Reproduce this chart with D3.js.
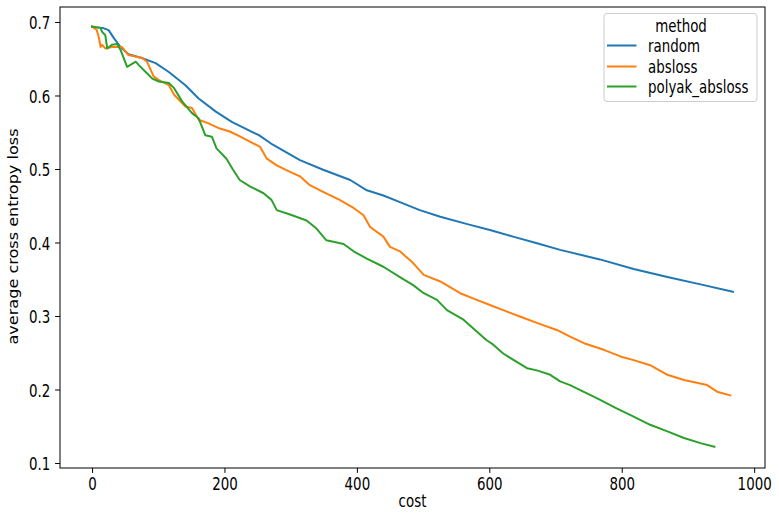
<!DOCTYPE html>
<html>
<head>
<meta charset="utf-8">
<script src="https://cdn.jsdelivr.net/npm/d3@7"></script>
<style>
  html, body { margin: 0; padding: 0; background: #fff; }
  svg { display: block; }
  text { font-family: "DejaVu Sans", sans-serif; fill: #000; }
</style>
</head>
<body>
<svg id="chart" width="779" height="513"></svg>
<script>
// ---- data ----
const seriesNames = ["random", "absloss", "polyak_absloss"];
const seriesColors = ["#1f77b4", "#ff7f0e", "#2ca02c"];

const randomCost = [0, 16, 25, 33, 43, 55, 75, 96, 116, 141, 161, 187, 211, 252, 273, 314, 349, 390, 415, 440, 465, 495, 526, 571, 601, 636, 672, 707, 767, 818, 869, 919, 968];
const randomLoss = [0.693, 0.692, 0.689, 0.678, 0.666, 0.656, 0.651, 0.644, 0.632, 0.614, 0.596, 0.578, 0.564, 0.546, 0.533, 0.512, 0.499, 0.485, 0.471, 0.464, 0.455, 0.444, 0.435, 0.424, 0.417, 0.408, 0.399, 0.390, 0.377, 0.364, 0.353, 0.343, 0.333];

const abslossCost = [0, 7, 10, 13, 15, 20, 30, 45, 55, 76, 83, 93, 101, 116, 124, 141, 151, 161, 176, 193, 208, 224, 239, 254, 264, 279, 299, 314, 329, 349, 374, 395, 410, 420, 440, 450, 465, 485, 501, 526, 556, 581, 601, 621, 647, 677, 702, 722, 743, 773, 798, 818, 843, 869, 894, 929, 944, 964];
const abslossLoss = [0.694, 0.689, 0.680, 0.666, 0.669, 0.664, 0.666, 0.666, 0.655, 0.651, 0.646, 0.626, 0.621, 0.614, 0.601, 0.585, 0.583, 0.567, 0.562, 0.555, 0.551, 0.544, 0.537, 0.530, 0.514, 0.505, 0.496, 0.490, 0.478, 0.469, 0.458, 0.447, 0.437, 0.421, 0.408, 0.394, 0.388, 0.372, 0.356, 0.347, 0.331, 0.322, 0.315, 0.308, 0.299, 0.289, 0.281, 0.272, 0.263, 0.254, 0.245, 0.240, 0.233, 0.220, 0.213, 0.206, 0.197, 0.192];

const polyakCost = [0, 13, 15, 20, 23, 30, 38, 43, 53, 66, 71, 81, 91, 101, 116, 124, 136, 151, 161, 171, 181, 188, 203, 213, 223, 239, 259, 271, 279, 299, 324, 339, 354, 380, 395, 415, 440, 465, 485, 501, 521, 536, 561, 581, 596, 606, 621, 637, 657, 672, 692, 707, 722, 742, 763, 793, 818, 843, 869, 894, 919, 940];
const polyakLoss = [0.694, 0.692, 0.687, 0.682, 0.664, 0.669, 0.670, 0.662, 0.639, 0.646, 0.641, 0.632, 0.623, 0.619, 0.617, 0.610, 0.592, 0.576, 0.569, 0.546, 0.544, 0.528, 0.514, 0.499, 0.485, 0.476, 0.467, 0.458, 0.444, 0.438, 0.430, 0.419, 0.403, 0.398, 0.388, 0.378, 0.367, 0.353, 0.342, 0.331, 0.322, 0.308, 0.295, 0.279, 0.267, 0.261, 0.249, 0.240, 0.229, 0.226, 0.220, 0.211, 0.206, 0.197, 0.188, 0.174, 0.163, 0.152, 0.143, 0.134, 0.127, 0.122];

const xTicks = [0, 200, 400, 600, 800, 1000];
const yTicks = [0.1, 0.2, 0.3, 0.4, 0.5, 0.6, 0.7];
const xLabel = "cost";
const yLabel = "average cross entropy loss";
const legendTitle = "method";

// ---- layout ----
const PL = 60, PR = 765, PT = 7, PB = 468;
const SY = 1.35;          // vertical text stretch seen in reference
const SYR = 1.2;          // stretch of rotated label length
const FS = 13.4;

const svg = d3.select("#chart");

const x = d3.scaleLinear().domain([-48.4, 1016.4]).range([PL, PR]);
const y = d3.scaleLinear().domain([0.0932, 0.7204]).range([PB, PT]);

const series = [
  { name: seriesNames[0], color: seriesColors[0], pts: randomCost.map((c, i) => [c, randomLoss[i]]) },
  { name: seriesNames[1], color: seriesColors[1], pts: abslossCost.map((c, i) => [c, abslossLoss[i]]) },
  { name: seriesNames[2], color: seriesColors[2], pts: polyakCost.map((c, i) => [c, polyakLoss[i]]) }
];

const line = d3.line().x(d => x(d[0])).y(d => y(d[1]));

svg.append("defs").append("clipPath").attr("id", "clip")
  .append("rect").attr("x", PL).attr("y", PT).attr("width", PR - PL).attr("height", PB - PT);

const g = svg.append("g").attr("clip-path", "url(#clip)");
series.forEach(s => {
  g.append("path").datum(s.pts)
    .attr("d", line)
    .attr("fill", "none")
    .attr("stroke", s.color)
    .attr("stroke-width", 2)
    .attr("stroke-linejoin", "round")
    .attr("stroke-linecap", "square");
});

// axes
const tickLen = 4.9, pad = 4.9;
const xAxis = d3.axisBottom(x).tickValues(xTicks).tickFormat(d3.format("d")).tickSize(tickLen).tickSizeOuter(0);
const yAxis = d3.axisLeft(y).tickValues(yTicks).tickFormat(d3.format(".1f")).tickSize(tickLen).tickSizeOuter(0);

const gx = svg.append("g").attr("transform", `translate(0,${PB})`).call(xAxis);
gx.select(".domain").remove();
gx.selectAll(".tick line").attr("stroke", "#000").attr("stroke-width", 1);
gx.selectAll(".tick text")
  .attr("font-size", FS)
  .attr("font-family", "DejaVu Sans")
  .attr("y", (tickLen + pad - 2) / SY)
  .attr("dy", "0.76em")
  .attr("transform", `scale(1,${SY})`);

const gy = svg.append("g").attr("transform", `translate(${PL},0)`).call(yAxis);
gy.select(".domain").remove();
gy.selectAll(".tick line").attr("stroke", "#000").attr("stroke-width", 1);
gy.selectAll(".tick text")
  .attr("font-size", FS)
  .attr("font-family", "DejaVu Sans")
  .attr("x", -(tickLen + pad))
  .attr("dy", "0.36em")
  .attr("transform", `scale(1,${SY})`);

// frame
svg.append("rect")
  .attr("x", PL).attr("y", PT).attr("width", PR - PL).attr("height", PB - PT)
  .attr("fill", "none").attr("stroke", "#000").attr("stroke-width", 1);

// axis labels
svg.append("text")
  .attr("transform", `translate(${(PL + PR) / 2},${507}) scale(1,${SY})`)
  .attr("text-anchor", "middle")
  .attr("font-size", FS)
  .text(xLabel);

svg.append("text")
  .attr("transform", `translate(${18},${(PT + PB) / 2 - 1}) scale(1,${SYR}) rotate(-90)`)
  .attr("text-anchor", "middle")
  .attr("font-size", FS)
  .text(yLabel);

// legend
const lg = svg.append("g");
lg.append("rect")
  .attr("x", 604).attr("y", 13.5).attr("width", 153).attr("height", 88)
  .attr("rx", 3).attr("ry", 3)
  .attr("fill", "#fff").attr("fill-opacity", 0.8)
  .attr("stroke", "#cccccc").attr("stroke-width", 1);
lg.append("text")
  .attr("transform", `translate(${681},${25}) scale(1,${SY})`)
  .attr("text-anchor", "middle")
  .attr("dy", "0.36em")
  .attr("font-size", FS)
  .text(legendTitle);
const rowY = [45.5, 66.5, 86.5];
series.forEach((s, i) => {
  lg.append("line")
    .attr("x1", 607).attr("x2", 636.5)
    .attr("y1", rowY[i]).attr("y2", rowY[i])
    .attr("stroke", s.color).attr("stroke-width", 2);
  lg.append("text")
    .attr("transform", `translate(${648},${rowY[i]}) scale(1,${SY})`)
    .attr("dy", "0.36em")
    .attr("font-size", FS)
    .text(s.name);
});
</script>
</body>
</html>
